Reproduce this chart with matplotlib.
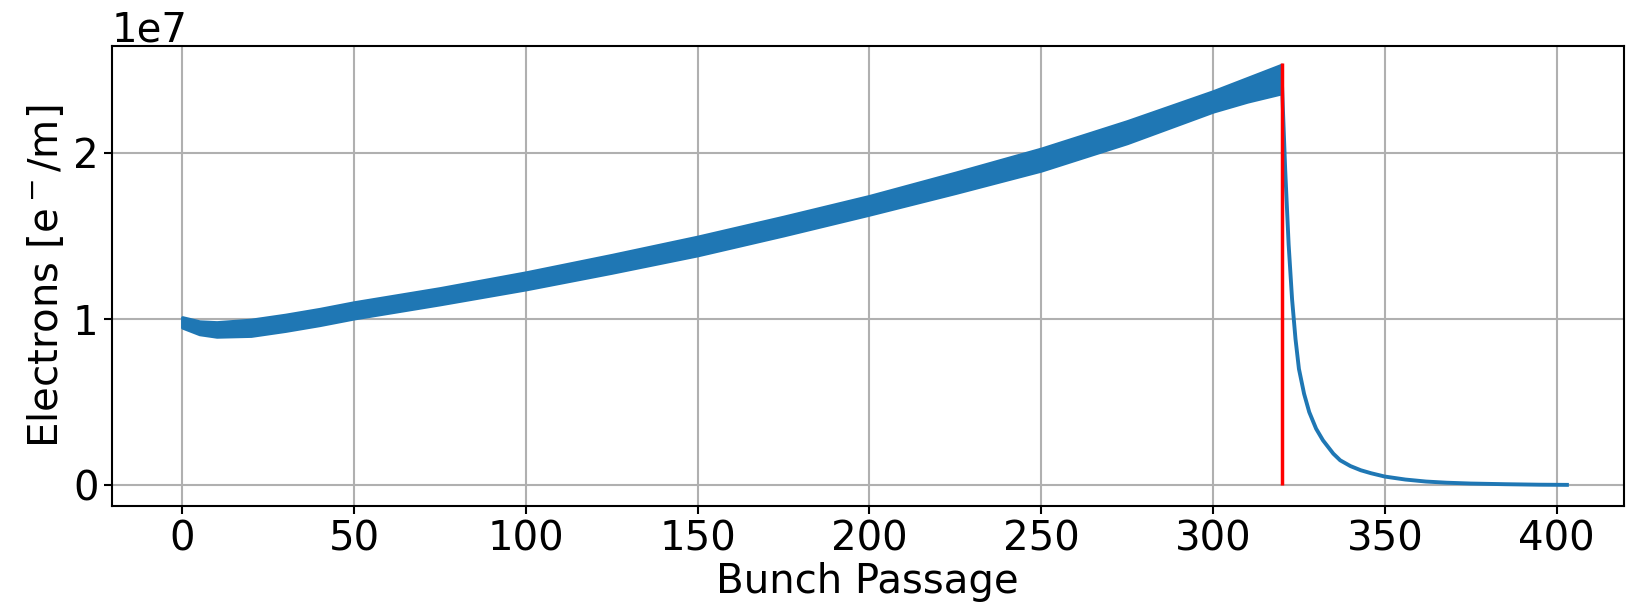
import matplotlib.pyplot as plt


# bunch train: upper / lower envelope of the oscillating electron density
train_x = [0, 5, 10, 20, 30, 40, 50, 75, 100, 125, 150, 175, 200, 225, 250, 275, 300, 310, 320]
train_top = [10.1e6, 9.85e6, 9.8e6, 9.95e6, 10.25e6, 10.6e6, 11.0e6, 11.85e6, 12.8e6, 13.85e6,
             14.95e6, 16.15e6, 17.4e6, 18.8e6, 20.25e6, 21.9e6, 23.7e6, 24.5e6, 25.3e6]
train_bottom = [9.5e6, 9.1e6, 8.95e6, 9.0e6, 9.3e6, 9.65e6, 10.05e6, 10.9e6, 11.8e6, 12.8e6,
                13.85e6, 15.05e6, 16.3e6, 17.6e6, 18.95e6, 20.6e6, 22.5e6, 23.1e6, 23.6e6]

# decay after the last bunch
decay_x = [320, 321, 322, 323, 324, 325, 326.5, 328, 330, 332, 335, 337, 340, 343, 346,
           350, 356, 362, 368, 375, 385, 395, 403]
decay_y = [24.5e6, 19.0e6, 14.5e6, 11.2e6, 8.8e6, 7.0e6, 5.5e6, 4.4e6, 3.4e6, 2.7e6, 1.9e6,
           1.5e6, 1.15e6, 0.9e6, 0.72e6, 0.52e6, 0.34e6, 0.22e6, 0.15e6, 0.1e6, 0.06e6,
           0.03e6, 0.02e6]

last_bunch = 320
last_bunch_top = 25.4e6


def main():
    plt.rcParams["font.size"] = 29

    fig = plt.figure(figsize=(16.45, 6.1), dpi=100)
    ax = fig.add_axes([0.068, 0.170, 0.919, 0.755])

    ax.fill_between(train_x, train_bottom, train_top, color="#1f77b4", linewidth=2.5,
                    edgecolor="#1f77b4", zorder=3)
    ax.plot(decay_x, decay_y, color="#1f77b4", linewidth=2.8, zorder=3)
    ax.vlines(last_bunch, 0, last_bunch_top, color="red", linewidth=2.5, zorder=4)

    ax.set_xlim(-20.5, 419.5)
    ax.set_ylim(-1.27e6, 26.45e6)
    ax.set_xticks(range(0, 401, 50))
    ax.set_yticks([0, 1e7, 2e7])

    ax.set_xlabel("Bunch Passage", labelpad=2)
    ax.set_ylabel("Electrons [e$^-$/m]")
    ax.grid(True, color="#b0b0b0", linewidth=1.5)
    ax.set_axisbelow(True)
    for spine in ax.spines.values():
        spine.set_linewidth(1.5)
    ax.tick_params(width=1.5, length=6)

    fig.savefig("out.png", dpi=100)
    plt.close(fig)


if __name__ == "__main__":
    main()
